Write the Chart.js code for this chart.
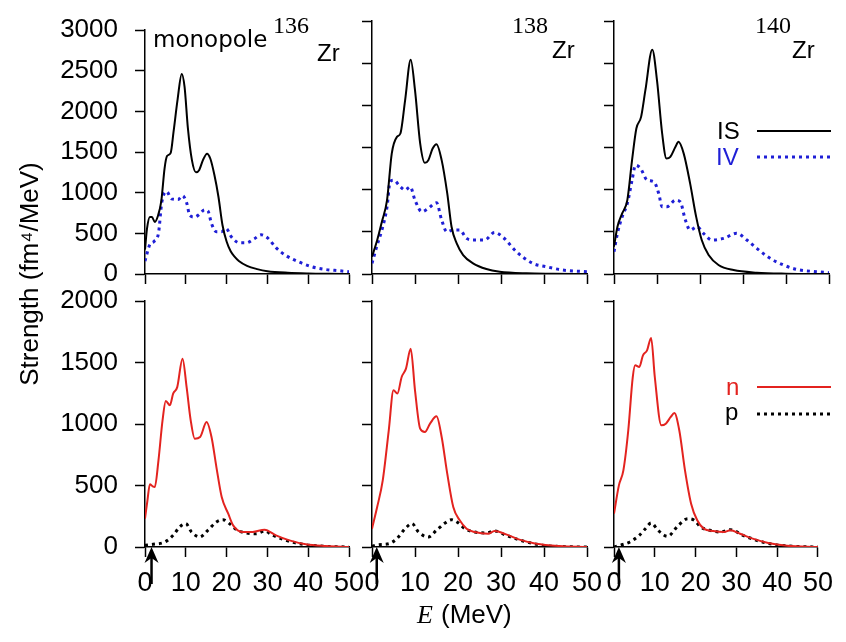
<!DOCTYPE html>
<html>
<head>
<meta charset="utf-8">
<script src="https://cdn.jsdelivr.net/npm/chart.js@4.4.0/dist/chart.umd.min.js"></script>
<style>
  body { margin: 0; background: #fff; }
  #wrap { position: relative; width: 846px; height: 642px; }
  #wrap canvas { position: absolute; left: 0; top: 0; }
</style>
</head>
<body>
<div id="wrap">
  <canvas id="t1" width="846" height="642"></canvas>
  <canvas id="t2" width="846" height="642"></canvas>
  <canvas id="t3" width="846" height="642"></canvas>
  <canvas id="b1" width="846" height="642"></canvas>
  <canvas id="b2" width="846" height="642"></canvas>
  <canvas id="b3" width="846" height="642"></canvas>
</div>
<script>
// energies (MeV) and strengths (fm^4/MeV)

// 136Zr
var E_IS136 = [0, 0.5, 1.2, 1.7, 2.4, 3.2, 4.0, 4.8, 5.4, 6.3, 7.0, 8.0, 9.0, 9.7, 10.5, 11.5, 12.5, 13.3, 14.2, 15.2, 16.0, 17.0, 18.0, 19.0, 20.0, 21.0, 22.0, 23.0, 25.0, 27.5, 30, 35, 40, 45, 50];
var S_IS136 = [300, 560, 700, 700, 640, 720, 900, 1300, 1450, 1490, 1750, 2150, 2460, 2300, 1800, 1400, 1250, 1280, 1400, 1480, 1420, 1220, 950, 600, 400, 280, 210, 160, 100, 60, 35, 15, 6, 2, 0];
var E_IV136 = [0, 1.2, 2.2, 3.3, 4.1, 5.3, 6.5, 8.1, 9.2, 10.2, 11, 12.2, 13.4, 14.6, 15.4, 16.3, 17.5, 18.7, 19.9, 21.1, 23.2, 24.8, 26.8, 28.5, 30.1, 32.1, 34.6, 37.8, 41, 44.3, 47.6, 50];
var S_IV136 = [160, 363, 400, 500, 876, 1014, 924, 916, 963, 876, 718, 700, 738, 790, 778, 620, 520, 520, 560, 462, 383, 383, 434, 482, 442, 324, 225, 146, 87, 55, 40, 28];
var E_n136 = [0, 0.6, 1.2, 1.9, 2.4, 3.3, 4.3, 5.1, 6.1, 6.9, 7.9, 9.2, 10.2, 11.2, 12.2, 13.5, 15.1, 16.3, 17.5, 18.8, 20.4, 21.6, 24, 26.4, 29.3, 32.1, 35.4, 39.4, 44.3, 50];
var S_n136 = [230, 380, 510, 493, 488, 705, 1030, 1187, 1152, 1247, 1300, 1531, 1300, 1030, 880, 894, 1016, 894, 650, 406, 271, 176, 122, 122, 141, 95, 54, 22, 8, 0];
var E_p136 = [0, 2, 4.9, 6.9, 8.5, 10, 11.4, 13.4, 15.4, 17.5, 19.1, 20.7, 22.4, 24.8, 27.2, 29.3, 31.3, 34.6, 38.6, 44.3, 50];
var S_p136 = [14, 22, 41, 95, 163, 190, 122, 81, 136, 203, 222, 190, 141, 114, 108, 130, 95, 54, 22, 5, 0];

// 138Zr
var E_IS138 = [0, 1.2, 2.3, 3.5, 4.6, 5.8, 6.6, 7.7, 9.0, 10, 11.2, 12.3, 13.1, 14.1, 15.0, 16.2, 17.5, 18.5, 19.7, 21.2, 23.5, 26.6, 29.7, 35.9, 42, 50];
var S_IS138 = [205, 400, 620, 876, 1430, 1626, 1666, 2060, 2540, 2180, 1550, 1318, 1350, 1488, 1540, 1350, 955, 560, 363, 225, 126, 59, 28, 8, 3, 0];
var E_IV138 = [0, 1.2, 2.3, 3.5, 4.2, 5.0, 6.6, 7.7, 8.9, 10, 11.6, 13.1, 15.0, 16.2, 17.4, 18.9, 20.4, 22, 23.5, 26.2, 28.5, 30.5, 33.6, 37.4, 40.5, 44.4, 50];
var S_IV138 = [126, 343, 521, 797, 1093, 1113, 1034, 995, 1034, 876, 738, 778, 845, 640, 501, 521, 521, 422, 403, 403, 493, 434, 264, 126, 87, 47, 28];
var E_n138 = [0, 1.2, 2.5, 3.9, 5.0, 5.9, 6.9, 7.9, 9.0, 10, 11.2, 12.3, 13.5, 15.0, 16.2, 17.5, 18.9, 20.4, 22, 23.9, 27, 28.5, 31.2, 34.3, 38.2, 43.6, 50];
var S_n138 = [149, 325, 542, 949, 1274, 1247, 1382, 1450, 1612, 1274, 962, 935, 1003, 1062, 894, 596, 325, 217, 149, 122, 108, 130, 103, 60, 27, 8, 0];
var E_p138 = [0, 1.5, 3.9, 5.8, 7.7, 9.3, 10.8, 13.1, 15, 17, 18.5, 20.1, 21.6, 23.9, 26.6, 28.5, 31.2, 35.1, 39.7, 45, 50];
var S_p138 = [5, 19, 27, 68, 149, 190, 122, 81, 136, 195, 222, 195, 149, 122, 114, 130, 95, 49, 14, 3, 0];

// 140Zr
var E_IS140 = [0, 0.8, 1.9, 3.1, 4.2, 5.2, 6.3, 7.3, 8.9, 10, 11.2, 12.2, 13.1, 14.3, 15, 16.2, 17.7, 19.1, 20.4, 22, 24.3, 27.8, 33.2, 40, 50];
var S_IS140 = [324, 560, 718, 876, 1350, 1725, 1863, 2180, 2660, 2297, 1666, 1370, 1390, 1508, 1567, 1430, 1074, 680, 403, 225, 107, 47, 16, 4, 0];
var E_IV140 = [0, 0.8, 1.9, 3.1, 4.2, 5.0, 6.2, 7.7, 9.3, 10.4, 11.2, 12.3, 14.3, 15.4, 16.6, 17.7, 19.3, 20.8, 22.8, 25.5, 28.5, 30.9, 33.2, 36.3, 39.4, 42.4, 47, 50];
var S_IV140 = [264, 482, 679, 837, 1113, 1290, 1250, 1113, 1093, 955, 797, 797, 876, 856, 640, 521, 560, 482, 403, 422, 482, 403, 304, 186, 107, 55, 28, 16];
var E_n140 = [0, 1.2, 2.3, 3.5, 4.6, 5.2, 6.2, 7.1, 8.1, 9.1, 10, 11.6, 12.7, 13.9, 14.8, 16.0, 17.4, 18.9, 20.4, 22, 24.3, 27, 28.5, 30.9, 34, 37.8, 42.4, 50];
var S_n140 = [271, 501, 623, 949, 1382, 1477, 1463, 1558, 1599, 1700, 1382, 989, 1003, 1057, 1089, 949, 623, 352, 217, 149, 130, 122, 136, 108, 68, 33, 11, 0];
var E_p140 = [0, 1.5, 3.9, 6.2, 7.7, 9.1, 10.8, 13.1, 15.8, 18.1, 19.7, 21.2, 23.5, 26.2, 28.5, 31.6, 35.5, 39.4, 45, 50];
var S_p140 = [0, 14, 41, 95, 149, 195, 136, 87, 176, 230, 217, 163, 136, 122, 141, 95, 49, 19, 4, 0];

// threshold arrows (MeV)
var arrowE = [1.6, 1.1, 1.2];
var xTicks = [0, 10, 20, 30, 40, 50];
var topMax = 3000, botMax = 2000, yStep = 500;

// page geometry of plot areas
var cols = [{ l: 145, r: 349 }, { l: 372, r: 587 }, { l: 614, r: 829 }];
var rows = [{ t: 21, b: 274 }, { t: 301, b: 547 }];

var SANS = '"Liberation Sans", Arial, sans-serif';
var SERIF = '"Liberation Serif", "Times New Roman", serif';

function pts(E, S) {
  var out = [];
  for (var i = 0; i < E.length; i++) out.push({ x: E[i], y: S[i] });
  return out;
}

function solid(E, S, color) {
  return { data: pts(E, S), borderColor: color, borderWidth: 2, fill: false };
}
function dotted(E, S, color) {
  return { data: pts(E, S), borderColor: color, borderWidth: 3, borderDash: [3, 4], fill: false };
}

// texts, legend and arrow drawn after the chart
function notes(col, row, texts, legend) {
  return {
    id: 'notes' + col + row,
    afterDraw: function (chart) {
      var ctx = chart.ctx;
      ctx.save();
      texts.forEach(function (t) {
        ctx.save();
        ctx.font = t.font;
        ctx.fillStyle = t.color || '#000';
        ctx.textAlign = t.align || 'left';
        ctx.textBaseline = t.base || 'alphabetic';
        ctx.translate(t.x, t.y);
        if (t.rot) ctx.rotate(t.rot);
        ctx.fillText(t.text, 0, 0);
        ctx.restore();
      });
      if (legend) {
        legend.forEach(function (l) {
          var ds = chart.data.datasets[l.ds];
          ctx.font = '24px ' + SANS;
          ctx.fillStyle = l.color;
          ctx.fillText(l.text, l.x, l.y);
          ctx.beginPath();
          ctx.setLineDash(ds.borderDash || []);
          ctx.lineWidth = ds.borderWidth;
          ctx.strokeStyle = ds.borderColor;
          ctx.moveTo(757, l.ly);
          ctx.lineTo(831, l.ly);
          ctx.stroke();
          ctx.setLineDash([]);
        });
      }
      if (row == 1) {
        var x = chart.scales.x.getPixelForValue(arrowE[col]);
        var yb = chart.chartArea.bottom;
        ctx.strokeStyle = '#000';
        ctx.fillStyle = '#000';
        ctx.lineWidth = 2.5;
        ctx.beginPath();
        ctx.moveTo(x, yb + 37);
        ctx.lineTo(x, yb + 8);
        ctx.stroke();
        ctx.beginPath();
        ctx.moveTo(x, yb);
        ctx.lineTo(x - 7, yb + 16);
        ctx.lineTo(x, yb + 11);
        ctx.lineTo(x + 7, yb + 16);
        ctx.closePath();
        ctx.fill();
      }
      ctx.restore();
    }
  };
}

function panel(id, col, row, sets, plugin) {
  var c = cols[col], r = rows[row];
  var yW = col == 0 ? c.l : 40, xH = 60;
  return new Chart(document.getElementById(id), {
    type: 'line',
    data: { datasets: sets },
    options: {
      responsive: false,
      animation: false,
      layout: { padding: { left: c.l - yW, right: 846 - c.r, top: r.t, bottom: 642 - r.b - xH } },
      plugins: { legend: { display: false }, tooltip: { enabled: false } },
      elements: {
        point: { radius: 0 },
        line: { cubicInterpolationMode: 'monotone', borderCapStyle: 'butt' }
      },
      scales: {
        x: {
          type: 'linear', min: 0, max: 50,
          afterFit: function (s) { s.height = xH; },
          afterBuildTicks: function (s) { s.ticks = xTicks.map(function (v) { return { value: v }; }); },
          border: { color: '#000', width: 1.5 },
          grid: { drawOnChartArea: false, drawTicks: true, tickLength: 10, tickColor: '#000', tickWidth: 1.5 },
          ticks: {
            display: row == 1, autoSkip: false, maxRotation: 0, color: '#000', padding: 13,
            callback: function (v) { return String(v); },
            font: { family: SANS, size: 27, lineHeight: 1 }
          }
        },
        y: {
          min: 0, max: row == 0 ? topMax : botMax,
          afterFit: function (s) { s.width = yW; },
          border: { color: '#000', width: 1.5 },
          grid: { drawOnChartArea: false, drawTicks: true, tickLength: 10, tickColor: '#000', tickWidth: 1.5 },
          ticks: {
            display: col == 0, stepSize: yStep, autoSkip: false, color: '#000', padding: 17,
            callback: function (v) { return String(v); },
            font: { family: SANS, size: 26, lineHeight: 1 }
          }
        }
      }
    },
    plugins: [plugin]
  });
}

var BLACK = '#000000', BLUE = '#1f1fd6', RED = '#e3231f';

panel('t1', 0, 0, [solid(E_IS136, S_IS136, BLACK), dotted(E_IV136, S_IV136, BLUE)],
  notes(0, 0, [
    { text: 'monopole', x: 153, y: 47, font: '23px "DejaVu Sans", sans-serif' },
    { text: '136', x: 273, y: 33, font: '24px ' + SERIF },
    { text: 'Zr', x: 317, y: 61, font: '24px ' + SANS }
  ]));
panel('t2', 1, 0, [solid(E_IS138, S_IS138, BLACK), dotted(E_IV138, S_IV138, BLUE)],
  notes(1, 0, [
    { text: '138', x: 512, y: 33, font: '24px ' + SERIF },
    { text: 'Zr', x: 552, y: 58, font: '24px ' + SANS }
  ]));
panel('t3', 2, 0, [solid(E_IS140, S_IS140, BLACK), dotted(E_IV140, S_IV140, BLUE)],
  notes(2, 0, [
    { text: '140', x: 755, y: 33, font: '24px ' + SERIF },
    { text: 'Zr', x: 792, y: 58, font: '24px ' + SANS }
  ], [
    { text: 'IS', x: 717, y: 139, ly: 131, ds: 0, color: BLACK },
    { text: 'IV', x: 716, y: 165, ly: 157, ds: 1, color: BLUE }
  ]));

panel('b1', 0, 1, [solid(E_n136, S_n136, RED), dotted(E_p136, S_p136, BLACK)],
  notes(0, 1, [
    { text: 'Strength (fm\u2074/MeV)', x: 31, y: 274, font: '26px ' + SANS, align: 'center', base: 'middle', rot: -Math.PI / 2 },
    { text: 'E', x: 417, y: 623, font: 'italic 26px ' + SERIF },
    { text: '(MeV)', x: 441, y: 623, font: '26px ' + SANS }
  ]));
panel('b2', 1, 1, [solid(E_n138, S_n138, RED), dotted(E_p138, S_p138, BLACK)], notes(1, 1, []));
panel('b3', 2, 1, [solid(E_n140, S_n140, RED), dotted(E_p140, S_p140, BLACK)],
  notes(2, 1, [], [
    { text: 'n', x: 726, y: 395, ly: 387, ds: 0, color: RED },
    { text: 'p', x: 725, y: 420, ly: 414, ds: 1, color: BLACK }
  ]));
</script>
</body>
</html>
